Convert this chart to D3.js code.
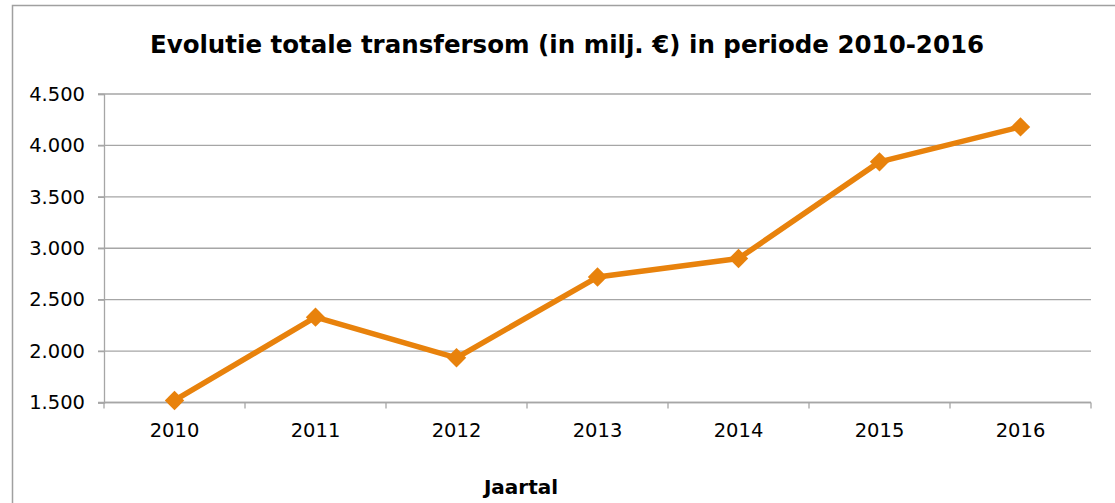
<!DOCTYPE html>
<html>
<head>
<meta charset="utf-8">
<script src="https://cdn.jsdelivr.net/npm/d3@7"></script>
<style>
  body { margin: 0; background: #fff; }
  svg { display: block; font-family: "DejaVu Sans", Verdana, sans-serif; }
</style>
</head>
<body>
<div id="chart"></div>
<script>
// data
const years = ["2010", "2011", "2012", "2013", "2014", "2015", "2016"];
const totals = [1520, 2330, 1935, 2720, 2900, 3840, 4180];
const yTicks = [1500, 2000, 2500, 3000, 3500, 4000, 4500];
const title = "Evolutie totale transfersom (in milj. €) in periode 2010-2016";
const xTitle = "Jaartal";

const width = 1115, height = 503;
const plot = { left: 104, right: 1091, top: 94, bottom: 402.5 };
const lineColor = "#e8820c";
const gridColor = "#a6a6a6";

const svg = d3.select("#chart")
    .append("svg")
    .attr("width", width)
    .attr("height", height);

// chart frame
svg.append("rect")
    .attr("x", 12.5)
    .attr("y", 5.5)
    .attr("width", width + 20)
    .attr("height", height + 20)
    .attr("fill", "none")
    .attr("stroke", "#a0a0a0")
    .attr("stroke-width", 1.5);

const x = d3.scaleBand()
    .domain(years)
    .range([plot.left, plot.right]);

const y = d3.scaleLinear()
    .domain([1500, 4500])
    .range([plot.bottom, plot.top]);

// gridlines
svg.append("g")
    .selectAll("line")
    .data(yTicks)
    .enter()
    .append("line")
    .attr("x1", plot.left - 6)
    .attr("x2", plot.right)
    .attr("y1", d => y(d))
    .attr("y2", d => y(d))
    .attr("stroke", gridColor)
    .attr("stroke-width", 1.3);

// y axis
const yAxis = svg.append("g")
    .attr("transform", `translate(${plot.left},0)`)
    .call(d3.axisLeft(y)
        .tickValues(yTicks)
        .tickSize(6)
        .tickPadding(13)
        .tickFormat(d => d3.format(",")(d).replace(/,/g, ".")));

yAxis.select(".domain").attr("stroke", gridColor).attr("stroke-width", 1.3);
yAxis.selectAll(".tick line").attr("stroke", gridColor).attr("stroke-width", 1.3);
yAxis.selectAll("text")
    .attr("font-family", "DejaVu Sans")
    .attr("font-size", 19.5)
    .attr("fill", "#000");

// x axis: ticks between categories
const xAxis = svg.append("g")
    .attr("transform", `translate(0,${plot.bottom})`);

xAxis.append("line")
    .attr("x1", plot.left)
    .attr("x2", plot.right)
    .attr("stroke", gridColor)
    .attr("stroke-width", 1.3);

const bounds = years.map(d => x(d)).concat([plot.right]);
xAxis.selectAll("line.tick")
    .data(bounds)
    .enter()
    .append("line")
    .attr("class", "tick")
    .attr("x1", d => d)
    .attr("x2", d => d)
    .attr("y1", 0)
    .attr("y2", 6)
    .attr("stroke", gridColor)
    .attr("stroke-width", 1.3);

xAxis.selectAll("text")
    .data(years)
    .enter()
    .append("text")
    .attr("x", d => x(d) + x.bandwidth() / 2)
    .attr("y", 34)
    .attr("text-anchor", "middle")
    .attr("font-size", 19.5)
    .attr("fill", "#000")
    .text(d => d);

// line
const line = d3.line()
    .x((d, i) => x(years[i]) + x.bandwidth() / 2)
    .y(d => y(d));

svg.append("path")
    .datum(totals)
    .attr("d", line)
    .attr("fill", "none")
    .attr("stroke", lineColor)
    .attr("stroke-width", 5.5)
    .attr("stroke-linejoin", "round");

// diamond markers
svg.selectAll("path.marker")
    .data(totals)
    .enter()
    .append("path")
    .attr("class", "marker")
    .attr("d", d3.symbol().type(d3.symbolDiamond2).size(240))
    .attr("transform", (d, i) => `translate(${x(years[i]) + x.bandwidth() / 2},${y(d)})`)
    .attr("fill", lineColor);

// titles
svg.append("text")
    .attr("x", 567)
    .attr("y", 53)
    .attr("text-anchor", "middle")
    .attr("font-size", 24.5)
    .attr("font-weight", "bold")
    .attr("fill", "#000")
    .text(title);

svg.append("text")
    .attr("x", 521)
    .attr("y", 494)
    .attr("text-anchor", "middle")
    .attr("font-size", 20)
    .attr("font-weight", "bold")
    .attr("fill", "#000")
    .text(xTitle);
</script>
</body>
</html>
